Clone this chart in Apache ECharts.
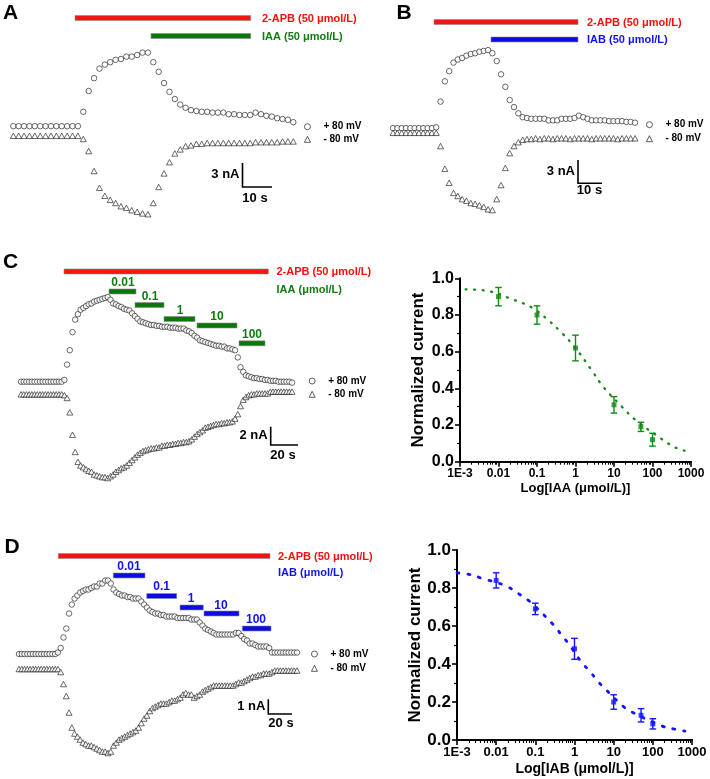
<!DOCTYPE html>
<html><head><meta charset="utf-8">
<script src="https://cdn.jsdelivr.net/npm/echarts@6.0.0/dist/echarts.min.js"></script>
<style>html,body{margin:0;padding:0;background:#fff}#c{width:710px;height:779px}</style>
</head><body><div id="c"></div>
<script>
// ---------- DATA ----------
// Panel A: whole-cell current (nA) at +80 / -80 mV, one sample per ~1.8 s
const aPos = [0.6,0.6,0.6,0.6,0.6,0.6,0.6,0.6,0.6,0.6,0.6,0.6,0.6,
  2.4,5.0,6.6,7.8,8.3,8.6,8.9,9.0,9.3,9.3,9.5,9.8,9.8,
  8.6,7.4,6.0,4.9,4.0,3.3,2.9,2.6,2.5,2.4,2.4,2.3,2.3,2.3,2.1,2.1,2.0,2.0,2.0,2.3,2.1,1.9,1.8,1.6,1.5,1.4,1.1];
const aNeg = [-0.6,-0.6,-0.6,-0.6,-0.6,-0.6,-0.6,-0.6,-0.6,-0.6,-0.6,-0.6,-0.6,
  -1.0,-2.5,-5.0,-7.1,-8.1,-8.6,-9.0,-9.4,-9.6,-9.9,-10.1,-10.3,-10.4,
  -9.0,-7.0,-5.3,-3.9,-2.8,-2.3,-1.9,-1.8,-1.6,-1.6,-1.5,-1.5,-1.5,-1.5,-1.5,-1.5,-1.5,-1.5,-1.5,-1.4,-1.4,-1.4,-1.4,-1.4,-1.3,-1.3,-1.3];
// Panel B
const bPos = [0.3,0.3,0.3,0.3,0.3,0.3,0.3,0.3,0.3,0.3,0.4,
  3.7,6.3,7.6,8.7,9.1,9.3,9.6,9.8,9.9,10.1,10.2,10.3,
  9.9,8.9,7.2,5.6,3.9,3.0,2.2,1.7,1.6,
  1.5,1.5,1.5,1.5,1.3,1.3,1.3,1.5,1.5,1.5,1.6,1.9,1.7,1.5,1.3,1.3,1.3,1.3,1.2,1.2,1.2,1.2,1.1,1.1,1.0];
const bNeg = [-0.3,-0.3,-0.3,-0.3,-0.3,-0.3,-0.3,-0.3,-0.3,-0.3,-0.3,
  -2.0,-4.9,-6.7,-8.0,-8.4,-8.8,-9.0,-9.3,-9.4,-9.6,-9.8,-10.1,-10.2,
  -8.8,-7.0,-4.8,-2.9,-2.0,-1.5,-1.2,
  -1.1,-1.1,-1.0,-1.1,-1.0,-1.0,-1.1,-1.0,-1.0,-1.0,-1.1,-1.0,-1.0,-1.0,-1.0,-1.1,-1.0,-1.0,-1.0,-1.0,-1.0,-1.1,-1.0,-1.0,-1.0,-1.0];
// Panel C traces
const cPos = [0.7,0.7,0.7,0.7,0.7,0.7,0.7,0.7,0.7,0.7,0.7,0.7,0.7,0.7,0.7,0.7,
  0.9,2.6,4.2,6.2,7.6,8.2,8.7,8.9,9.1,9.3,9.4,9.6,9.7,9.8,9.9,10.0,10.1,
  9.8,9.4,9.3,9.1,9.0,8.8,8.7,8.6,8.3,8.0,7.7,7.4,7.3,7.2,7.1,7.0,7.0,6.9,6.9,6.8,
  6.8,6.8,6.7,6.7,6.7,6.6,6.6,6.6,6.4,6.3,6.1,5.8,5.6,5.3,5.2,5.1,5.0,4.9,4.8,4.7,
  4.7,4.6,4.6,4.4,4.4,4.3,4.2,
  3.4,2.3,1.8,1.4,1.3,1.2,1.1,1.1,1.0,1.0,0.9,0.9,0.8,0.8,0.8,0.7,0.7,0.7,0.7,0.7,0.6];
const cNeg = [-0.7,-0.7,-0.7,-0.7,-0.7,-0.7,-0.7,-0.7,-0.7,-0.7,-0.7,-0.7,-0.7,-0.7,-0.7,-0.7,
  -0.8,-1.1,-2.7,-5.2,-7.1,-8.2,-8.6,-8.8,-9.0,-9.2,-9.3,-9.6,-9.7,-9.8,-9.9,-9.9,-10.0,
  -9.8,-9.6,-9.3,-9.1,-8.9,-8.8,-8.6,-8.3,-8.0,-7.7,-7.4,-7.2,-7.0,-6.9,-6.8,-6.7,-6.7,-6.6,-6.6,-6.4,
  -6.4,-6.3,-6.3,-6.2,-6.2,-6.1,-6.1,-6.0,-6.0,-5.9,-5.7,-5.4,-5.1,-4.9,-4.7,-4.4,-4.3,-4.2,-4.1,-4.0,
  -4.0,-3.9,-3.9,-3.8,-3.8,-3.7,-3.4,
  -2.9,-2.0,-1.3,-1.0,-0.8,-0.7,-0.7,-0.6,-0.6,-0.6,-0.6,-0.6,-0.4,-0.4,-0.4,-0.4,-0.4,-0.4,-0.4,-0.4,-0.4];
// Panel D traces
const dPos = [0.5,0.5,0.5,0.5,0.5,0.5,0.5,0.5,0.5,0.5,0.5,0.5,0.5,0.5,0.6,
  0.9,1.6,2.2,3.2,3.8,4.2,4.4,4.6,4.7,4.8,4.8,4.9,5.0,5.0,5.2,5.2,5.4,5.4,
  5.2,4.8,4.6,4.5,4.4,4.4,4.3,4.3,4.2,4.2,4.2,4.0,3.8,3.6,3.4,3.3,3.2,3.2,3.1,3.1,
  3.0,3.0,3.0,3.0,2.9,2.9,2.9,2.9,2.9,2.8,2.8,2.8,2.6,2.4,2.2,2.1,2.0,1.9,1.8,1.8,
  1.8,1.8,1.8,1.8,1.8,1.9,1.9,
  1.7,1.5,1.4,1.2,1.2,1.1,1.0,1.0,1.0,1.0,0.9,0.6,0.6,0.6,0.6,0.6,0.6,0.6,0.6,0.6,0.6];
const dNeg = [-0.5,-0.5,-0.5,-0.5,-0.5,-0.5,-0.5,-0.5,-0.5,-0.5,-0.5,-0.5,-0.5,-0.5,-0.5,
  -0.7,-1.5,-2.3,-3.4,-4.4,-4.8,-5.0,-5.2,-5.4,-5.5,-5.6,-5.6,-5.7,-5.8,-5.9,-6.0,-6.0,-6.1,
  -6.0,-5.6,-5.4,-5.2,-5.1,-5.0,-4.9,-4.8,-4.7,-4.6,-4.4,-4.1,-3.8,-3.6,-3.3,-3.1,-3.0,-2.9,-2.8,-2.8,
  -2.8,-2.7,-2.6,-2.6,-2.5,-2.4,-2.2,-2.1,-2.2,-2.2,-2.4,-2.3,-2.2,-2.0,-1.9,-1.8,-1.7,-1.6,-1.6,-1.6,
  -1.6,-1.6,-1.6,-1.6,-1.6,-1.5,-1.4,
  -1.4,-1.3,-1.2,-1.1,-1.0,-1.0,-0.9,-0.9,-0.8,-0.8,-0.8,-0.7,-0.6,-0.6,-0.6,-0.6,-0.6,-0.6,-0.6,-0.6,-0.6];

// Concentration-response (normalized current)
const conc = [0.01, 0.1, 1, 10, 50, 100];
const iaaMean = [0.90, 0.80, 0.62, 0.31, 0.19, 0.12];
const iaaSem  = [0.05, 0.05, 0.07, 0.045, 0.025, 0.035];
const iabMean = [0.84, 0.69, 0.48, 0.20, 0.13, 0.085];
const iabSem  = [0.04, 0.03, 0.055, 0.038, 0.035, 0.027];
// fitted curves
const iaaFitX = [0.0014, 0.0056, 0.02, 0.074, 0.2, 0.45, 1, 2.6, 5.2, 16, 35, 115, 370, 680];
const iaaFitY = [0.94, 0.93, 0.89, 0.84, 0.77, 0.70, 0.62, 0.50, 0.41, 0.30, 0.23, 0.15, 0.08, 0.06];
const iabFitX = [0.001, 0.0022, 0.0045, 0.018, 0.044, 0.071, 0.31, 0.47, 0.69, 1.5, 2.5, 3.9, 6.0, 18, 30, 170, 340, 660];
const iabFitY = [0.88, 0.87, 0.85, 0.81, 0.76, 0.73, 0.60, 0.55, 0.51, 0.41, 0.36, 0.31, 0.27, 0.175, 0.146, 0.074, 0.058, 0.047];

const xTickLabels = ['1E-3', '0.01', '0.1', '1', '10', '100', '1000'];
const yTickLabels = ['0.0', '0.2', '0.4', '0.6', '0.8', '1.0'];
const stepLabels = ['0.01', '0.1', '1', '10', '100'];
const legendNames = ['+ 80 mV', '- 80 mV'];

// ---------- STYLE ----------
const FF = '"Liberation Sans", Arial, Helvetica, sans-serif';
const RED = '#ff0d0d', GREEN = '#0f7d0f', BLUE = '#1212f0';
const BAR_RED = '#f41414', BAR_GREEN = '#0b770b', BAR_BLUE = '#0b0be6';

const chart = echarts.init(document.getElementById('c'), null, {renderer: 'canvas'});

const grids = [
  {left: 13.3, top: 40, width: 280, height: 190},   // A
  {left: 393, top: 40, width: 242, height: 190},    // B
  {left: 21, top: 260, width: 271, height: 240},    // C trace
  {left: 19, top: 540, width: 278, height: 230},    // D trace
  {left: 460, top: 278.3, width: 231, height: 183.4}, // C dose
  {left: 457, top: 550, width: 235, height: 190}    // D dose
];
const traceY = [[-12.375, 11.375], [-12.76, 11.6], [-12.44, 14.22], [-7.23, 8.1]];
const traceN = [aPos.length, bPos.length, cPos.length, dPos.length];

const xAxes = [], yAxes = [];
for (let g = 0; g < 4; g++) {
  xAxes.push({gridIndex: g, type: 'value', min: 0, max: traceN[g] - 1, show: false});
  yAxes.push({gridIndex: g, type: 'value', min: traceY[g][0], max: traceY[g][1], show: false});
}
const minorVals = [];
for (let d = -3; d < 3; d++) for (let k = 2; k <= 9; k++) minorVals.push(Math.log10(k) + d);

function doseX(g, fs, name, gap) {
  return {
    gridIndex: g, type: 'value', position: 'bottom', min: -3, max: 3, interval: 1,
    axisLine: {show: true, onZero: false, lineStyle: {color: '#000', width: 2}},
    axisTick: {show: true, length: 5, lineStyle: {color: '#000', width: 1.6}},
    axisLabel: {margin: 6, color: '#000', fontFamily: FF, fontWeight: 'bold', fontSize: fs,
      formatter: v => xTickLabels[Math.round(v) + 3]},
    splitLine: {show: false},
    name: name, nameLocation: 'middle', nameGap: gap,
    nameTextStyle: {color: '#000', fontFamily: FF, fontWeight: 'bold', fontSize: fs + 1}
  };
}
function minorX(g) {
  return {
    gridIndex: g, type: 'value', position: 'bottom', min: -3, max: 3,
    axisLine: {show: true, onZero: false, lineStyle: {color: '#000', width: 2}},
    axisLabel: {show: false}, splitLine: {show: false},
    axisTick: {show: true, length: 3, customValues: minorVals, lineStyle: {color: '#000', width: 1.1}}
  };
}
function doseY(g, fs, gap) {
  return {
    gridIndex: g, type: 'value', min: 0, max: 1, interval: 0.2,
    axisLine: {show: true, onZero: false, lineStyle: {color: '#000', width: 2}},
    axisTick: {show: true, length: 5, lineStyle: {color: '#000', width: 1.6}},
    minorTick: {show: true, splitNumber: 2, length: 3, lineStyle: {color: '#000', width: 1.2}},
    axisLabel: {margin: 6, color: '#000', fontFamily: FF, fontWeight: 'bold', fontSize: fs,
      formatter: v => yTickLabels[Math.round(v * 5)]},
    splitLine: {show: false},
    name: 'Normalized current', nameLocation: 'middle', nameRotate: 90, nameGap: gap,
    nameTextStyle: {color: '#000', fontFamily: FF, fontWeight: 'bold', fontSize: 17}
  };
}
xAxes.push(doseX(4, 12, 'Log[IAA (μmol/L)]', 20));
xAxes.push(doseX(5, 13, 'Log[IAB (μmol/L)]', 22));
xAxes.push(minorX(4));
xAxes.push(minorX(5));
yAxes.push(doseY(4, 16, 33));
yAxes.push(doseY(5, 17, 32));

const series = [];
function trace(name, vals, g, sym, size) {
  series.push({
    type: 'scatter', name: name, xAxisIndex: g, yAxisIndex: g,
    data: vals.map((v, i) => [i, v]), symbol: sym, symbolSize: size,
    itemStyle: {color: '#fff', borderColor: '#222', borderWidth: 0.85},
    silent: true
  });
}
[[aPos, aNeg], [bPos, bNeg], [cPos, cNeg], [dPos, dNeg]].forEach((p, g) => {
  trace(legendNames[0], p[0], g, 'circle', 5.5);
  trace(legendNames[1], p[1], g, 'triangle', [6, 5.5]);
});

function dose(g, mean, sem, fx, fy, col, lw, dash, capW) {
  series.push({
    type: 'line', xAxisIndex: g, yAxisIndex: g, smooth: 0.4, showSymbol: false, silent: true,
    data: fx.map((c, i) => [Math.log10(c), fy[i]]),
    lineStyle: {color: col, width: lw, type: dash, cap: 'round'}, z: 2
  });
  series.push({
    type: 'custom', xAxisIndex: g, yAxisIndex: g, silent: true, z: 3,
    data: conc.map((c, i) => [Math.log10(c), mean[i] - sem[i], mean[i] + sem[i]]),
    encode: {x: 0, y: [1, 2]},
    renderItem: (params, api) => {
      const x = api.value(0);
      const t = api.coord([x, api.value(2)]);
      const b = api.coord([x, api.value(1)]);
      const st = {stroke: col, lineWidth: 1.4};
      return {type: 'group', children: [
        {type: 'line', shape: {x1: t[0], y1: t[1], x2: b[0], y2: b[1]}, style: st},
        {type: 'line', shape: {x1: t[0] - capW, y1: t[1], x2: t[0] + capW, y2: t[1]}, style: st},
        {type: 'line', shape: {x1: b[0] - capW, y1: b[1], x2: b[0] + capW, y2: b[1]}, style: st}
      ]};
    }
  });
  series.push({
    type: 'scatter', xAxisIndex: g, yAxisIndex: g, silent: true, z: 4,
    data: conc.map((c, i) => [Math.log10(c), mean[i]]),
    symbol: 'rect', symbolSize: 5, itemStyle: {color: col}
  });
}
dose(4, iaaMean, iaaSem, iaaFitX, iaaFitY, '#138a13', 2.3, [1, 7.5], 3.3);
dose(5, iabMean, iabSem, iabFitX, iabFitY, '#1414ff', 2.8, [2, 9], 3.3);

function legend(cx, cy, gap) {
  return {
    left: cx - 3, top: cy - 5, orient: 'vertical', padding: 0, itemGap: gap,
    itemWidth: 6, itemHeight: 6, selectedMode: false,
    data: [{name: legendNames[0], icon: 'circle'}, {name: legendNames[1], icon: 'triangle'}],
    itemStyle: {color: '#fff', borderColor: '#222', borderWidth: 0.9},
    textStyle: {color: '#000', fontFamily: FF, fontWeight: 'bold', fontSize: 10, padding: [0, 0, 0, 8]}
  };
}

// ---------- ANNOTATIONS ----------
const G = [];
function txt(x, y, s, fill, size, align) {
  G.push({type: 'text', x: x, y: y, silent: true, style: {text: s, fill: fill,
    font: 'bold ' + size + 'px ' + FF, textAlign: align || 'left', textVerticalAlign: 'middle'}});
}
function bar(x1, x2, yc, fill) {
  G.push({type: 'rect', silent: true, shape: {x: x1, y: yc - 2.5, width: x2 - x1, height: 5},
    style: {fill: fill, stroke: '#8c8c8c', lineWidth: 0.6}});
}
function scale(x, y1, y2, x2, vLab, hLab, vy, hx, hy) {
  G.push({type: 'polyline', silent: true, shape: {points: [[x, y1], [x, y2], [x2, y2]]},
    style: {stroke: '#000', lineWidth: 1.6, fill: null}});
  txt(x - 3, vy, vLab, '#000', 13, 'right');
  txt(hx, hy, hLab, '#000', 13, 'center');
}
// panel letters
txt(3, 13, 'A', '#000', 21);
txt(396.5, 13, 'B', '#000', 21);
txt(3, 262.5, 'C', '#000', 21);
txt(4.5, 547, 'D', '#000', 21);
// A
bar(75, 250.7, 18, BAR_RED); bar(151, 250.7, 36, BAR_GREEN);
txt(262, 18.5, '2-APB (50 μmol/L)', RED, 11); txt(262, 36.5, 'IAA (50 μmol/L)', GREEN, 11);
scale(242.5, 163, 187, 272, '3 nA', '10 s', 174, 255, 198);
// B
bar(434, 578, 22, BAR_RED); bar(491, 578, 39.5, BAR_BLUE);
txt(587, 22.5, '2-APB (50 μmol/L)', RED, 11); txt(587, 40, 'IAB (50 μmol/L)', BLUE, 11);
scale(578, 160, 183.3, 602, '3 nA', '10 s', 171, 589.5, 190.5);
// C
bar(64, 268.3, 271.5, BAR_RED);
txt(276.5, 271.5, '2-APB (50 μmol/L)', RED, 11); txt(276.5, 290, 'IAA (μmol/L)', GREEN, 11);
const cBars = [[109, 136, 291.5, 123, 282.5], [135, 164, 305, 150, 297], [164, 195, 319, 180, 310.5], [197, 237, 325.5, 217, 316.7], [239, 265, 343.3, 252, 335]];
cBars.forEach((b, i) => { bar(b[0], b[1], b[2], BAR_GREEN); txt(b[3], b[4], stepLabels[i], GREEN, 12, 'center'); });
scale(270.7, 426.7, 445, 298, '2 nA', '20 s', 435, 283, 455);
// D
bar(58.3, 270, 556, BAR_RED);
txt(278, 556.5, '2-APB (50 μmol/L)', RED, 11); txt(278, 573, 'IAB (μmol/L)', BLUE, 11);
const dBars = [[113.3, 145, 575.5, 129, 567], [146.7, 176.7, 596, 161.7, 587], [180, 203.3, 607.5, 191, 599], [204, 239, 613.5, 221, 605.5], [242.3, 271, 628.5, 256, 620]];
dBars.forEach((b, i) => { bar(b[0], b[1], b[2], BAR_BLUE); txt(b[3], b[4], stepLabels[i], BLUE, 12, 'center'); });
scale(268.3, 699.3, 714, 292, '1 nA', '20 s', 706.7, 281, 723.5);

chart.setOption({
  animation: false,
  backgroundColor: '#fff',
  textStyle: {fontFamily: FF},
  grid: grids,
  xAxis: xAxes,
  yAxis: yAxes,
  legend: [legend(307, 126.7, 2.6), legend(649, 124.7, 4), legend(311.7, 381, 3.3), legend(314, 654, 4.3)],
  series: series,
  graphic: G
});
</script></body></html>
